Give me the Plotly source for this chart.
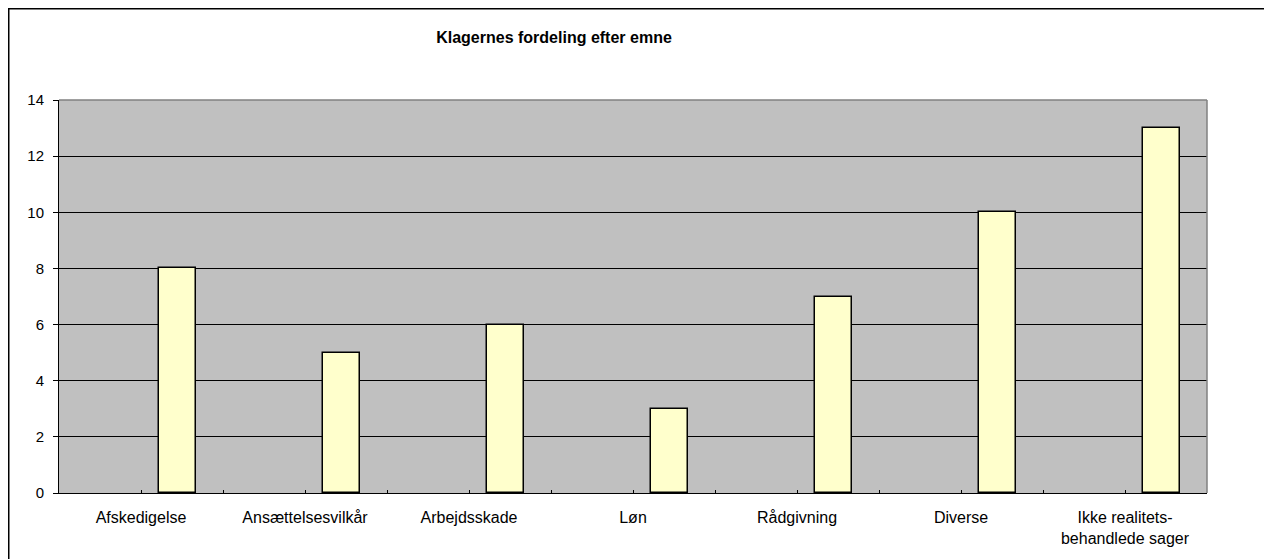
import plotly.graph_objects as go

categories = ["Afskedigelse", "Ansættelsesvilkår", "Arbejdsskade", "Løn",
              "Rådgivning", "Diverse", "Ikke realitets-<br>behandlede sager"]
values = [8, 5, 6, 3, 7, 10, 13]
y_ticks = [0, 2, 4, 6, 8, 10, 12, 14]
title = "Klagernes fordeling efter emne"

pos = list(range(len(categories)))
font = "Liberation Sans, Arial, sans-serif"

fig = go.Figure()
fig.add_trace(go.Bar(
    x=pos, y=values,
    width=2/9, offset=1/9,
    marker=dict(color="#FFFFCC", line=dict(color="#000000", width=1.5)),
    hoverinfo="y",
))

# The page body has an 8px margin; layout below is in div coordinates.
OFF = 8
W, H = 1272 - OFF, 559 - OFF
L, Rr, T, Bb = 59 - OFF, 1207 - OFF, 100 - OFF, 493 - OFF
pw, ph = Rr - L, Bb - T

def px_x(v):
    return (v - L) / pw

def px_y(v):
    return (Bb - v) / ph

fig.update_layout(
    width=W, height=H,
    margin=dict(l=L, r=W - Rr, t=T, b=H - Bb, autoexpand=False),
    paper_bgcolor="white",
    plot_bgcolor="#C0C0C0",
    showlegend=False,
    bargap=0,
    font=dict(family=font, size=15, color="#000000"),
    title=dict(text="<b>" + title + "</b>", x=(554 - OFF) / W, xanchor="center",
               xref="container", y=1 - (37 - OFF) / H, yanchor="middle",
               font=dict(family=font, size=16, color="#000000")),
    xaxis=dict(
        range=[-0.5, len(categories) - 0.5],
        tickmode="array", tickvals=pos, ticktext=categories,
        ticks="inside", ticklen=3, tickcolor="#000000",
        ticklabelstandoff=10,
        showline=True, linecolor="#000000", linewidth=1,
        showgrid=False, zeroline=False,
        tickfont=dict(family=font, size=16),
        minor=dict(tickmode="array",
                   tickvals=[p - 0.5 for p in pos] + [len(categories) - 0.5],
                   ticks="inside", ticklen=3, tickcolor="#000000"),
        fixedrange=True,
    ),
    yaxis=dict(
        range=[0, 14], tickmode="array", tickvals=y_ticks,
        ticks="outside", ticklen=5, tickcolor="#000000",
        ticklabelstandoff=6,
        showline=True, linecolor="#000000", linewidth=1,
        showgrid=True, gridcolor="#000000", gridwidth=1,
        zeroline=False,
        tickfont=dict(family=font, size=15),
        fixedrange=True,
    ),
    shapes=[
        # plot area border (top and right, gray)
        dict(type="line", xref="paper", yref="paper", x0=0, x1=1, y0=1, y1=1,
             line=dict(color="#808080", width=1.5), layer="above"),
        dict(type="line", xref="paper", yref="paper", x0=1, x1=1, y0=0, y1=1,
             line=dict(color="#808080", width=1.5), layer="above"),
        # outer chart border
        dict(type="rect", xref="paper", yref="paper",
             x0=px_x(0.5), x1=px_x(W + 10), y0=px_y(H + 10), y1=px_y(0.5),
             line=dict(color="#000000", width=2), fillcolor="rgba(0,0,0,0)",
             layer="above"),
    ],
)

fig.write_html("out.html")
